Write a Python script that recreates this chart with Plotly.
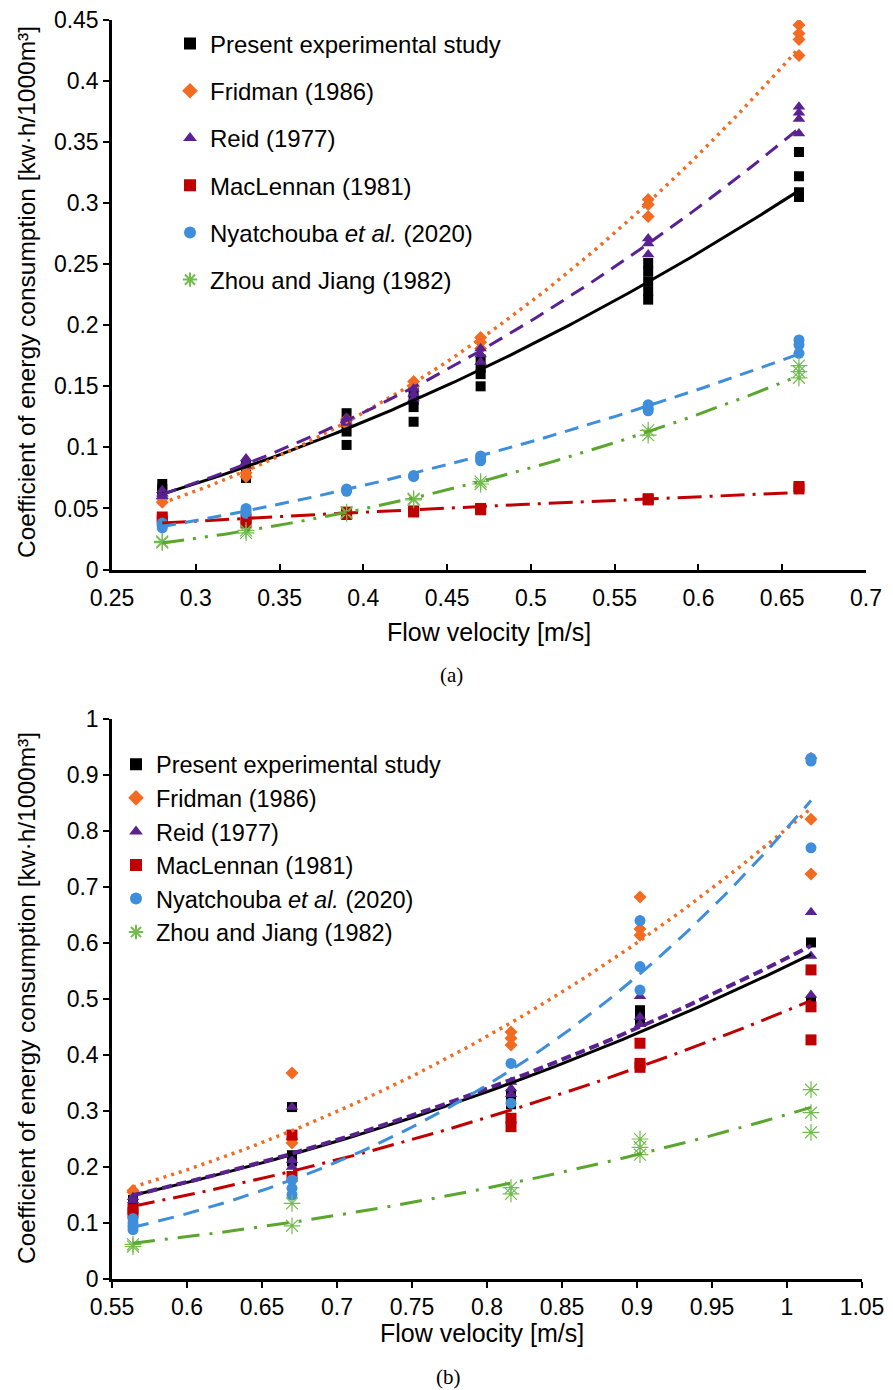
import numpy as np
import plotly.graph_objects as go

W, H = 893, 1390

# ---------------- Panel (a) data ----------------
A_X = [0.28, 0.33, 0.39, 0.43, 0.47, 0.57, 0.66]
A_PRESENT = [[0.070, 0.066, 0.062], [0.085, 0.080, 0.075], [0.128, 0.120, 0.113, 0.102],
             [0.145, 0.139, 0.133, 0.121], [0.172, 0.165, 0.160, 0.150],
             [0.251, 0.244, 0.236, 0.228, 0.221], [0.342, 0.322, 0.309, 0.305]]
A_FRIDMAN = [[0.058, 0.055], [0.083, 0.079, 0.076], [0.123, 0.119], [0.154, 0.150],
             [0.190, 0.186, 0.181], [0.303, 0.299, 0.289], [0.446, 0.439, 0.434, 0.421]]
A_REID = [[0.065, 0.062, 0.060], [0.091, 0.088, 0.085], [0.124, 0.120], [0.148, 0.144, 0.140],
          [0.181, 0.176, 0.170], [0.271, 0.267, 0.258], [0.379, 0.374, 0.369, 0.357]]
A_MACLENNAN = [[0.043, 0.040], [0.041, 0.038], [0.047, 0.045], [0.048, 0.047],
               [0.050, 0.049], [0.058, 0.057], [0.068, 0.066]]
A_NYATCHOUBA = [[0.038, 0.036, 0.034], [0.050, 0.048, 0.046], [0.066, 0.064], [0.077, 0.076],
                [0.093, 0.091, 0.089], [0.135, 0.132, 0.130], [0.188, 0.184, 0.177]]
A_ZHOU = [[0.023, 0.022], [0.032, 0.030], [0.047, 0.046], [0.058, 0.057],
          [0.072, 0.070], [0.114, 0.110], [0.167, 0.162, 0.157]]

# ---------------- Panel (b) data ----------------
B_X = [0.564, 0.670, 0.816, 0.902, 1.016]
B_PRESENT = [[0.141, 0.135], [0.307, 0.221, 0.210], [0.330, 0.312],
             [0.480, 0.470, 0.460], [0.601, 0.495]]
B_FRIDMAN = [[0.158, 0.155], [0.368, 0.250, 0.243], [0.441, 0.430, 0.418],
             [0.682, 0.625, 0.614], [0.930, 0.821, 0.723]]
B_REID = [[0.146, 0.140], [0.307, 0.212, 0.200], [0.352, 0.340, 0.330],
          [0.505, 0.468, 0.455], [0.655, 0.577, 0.507]]
B_MACLENNAN = [[0.125, 0.118], [0.257, 0.183], [0.287, 0.272],
               [0.421, 0.385, 0.378], [0.552, 0.486, 0.427]]
B_NYATCHOUBA = [[0.108, 0.100, 0.094, 0.088], [0.177, 0.162, 0.150], [0.385, 0.314],
                [0.640, 0.558, 0.516], [0.930, 0.925, 0.770]]
B_ZHOU = [[0.062, 0.058], [0.135, 0.095], [0.163, 0.152],
          [0.250, 0.235, 0.222], [0.338, 0.297, 0.262]]

SERIES_NAMES = ["Present experimental study", "Fridman (1986)", "Reid (1977)",
                "MacLennan (1981)", "Nyatchouba <i>et al.</i> (2020)", "Zhou and Jiang (1982)"]

A_TICKS_X = [0.25, 0.3, 0.35, 0.4, 0.45, 0.5, 0.55, 0.6, 0.65, 0.7]
A_TICKS_X_TEXT = ["0.25", "0.3", "0.35", "0.4", "0.45", "0.5", "0.55", "0.6", "0.65", "0.7"]
A_TICKS_Y = [0, 0.05, 0.1, 0.15, 0.2, 0.25, 0.3, 0.35, 0.4, 0.45]
A_TICKS_Y_TEXT = ["0", "0.05", "0.1", "0.15", "0.2", "0.25", "0.3", "0.35", "0.4", "0.45"]
B_TICKS_X = [0.55, 0.6, 0.65, 0.7, 0.75, 0.8, 0.85, 0.9, 0.95, 1.0, 1.05]
B_TICKS_X_TEXT = ["0.55", "0.6", "0.65", "0.7", "0.75", "0.8", "0.85", "0.9", "0.95", "1", "1.05"]
B_TICKS_Y = [0, 0.1, 0.2, 0.3, 0.4, 0.5, 0.6, 0.7, 0.8, 0.9, 1.0]
B_TICKS_Y_TEXT = ["0", "0.1", "0.2", "0.3", "0.4", "0.5", "0.6", "0.7", "0.8", "0.9", "1"]

# ---------------- styles ----------------
COLORS = ["#000000", "#F26B21", "#5A2191", "#C00000", "#3F8EDB", "#72BC4C"]
LINE_COLORS = ["#000000", "#F26B21", "#5A2191", "#C00000", "#3F8EDB", "#5AA62E"]
SYMBOLS = ["square", "diamond", "triangle-up", "square", "circle", "asterisk-open"]
SIZES = [10, 10, 11, 11, 11, 14]
A_DASH = ["solid", "3px,5px", "15px,9px", "24px,8px,3px,8px", "14px,9px",
          "22px,9px,3px,9px,3px,9px"]
B_DASH = ["solid", "3px,5px", "10px,5px", "22px,8px,3px,8px", "16px,10px",
          "22px,10px,3px,10px"]
A_WIDTH = [3, 3.5, 3, 3, 3, 3]
B_WIDTH = [3, 3.5, 4, 3, 3, 3]

FONT = "Liberation Sans, Arial, sans-serif"


def flatten(xs, groups):
    fx, fy = [], []
    for x, g in zip(xs, groups):
        for v in g:
            fx.append(x)
            fy.append(v)
    return np.array(fx), np.array(fy)


def power_fit(x, y, xs):
    b, ln_a = np.polyfit(np.log(x), np.log(y), 1)
    return np.exp(ln_a) * xs ** b


fig = go.Figure()

panels = [
    ("x", "y", "legend", A_X, [A_PRESENT, A_FRIDMAN, A_REID, A_MACLENNAN, A_NYATCHOUBA, A_ZHOU], A_DASH, A_WIDTH),
    ("x2", "y2", "legend2", B_X, [B_PRESENT, B_FRIDMAN, B_REID, B_MACLENNAN, B_NYATCHOUBA, B_ZHOU], B_DASH, B_WIDTH),
]

for xa, ya, leg, xs, series, dashes, widths in panels:
    for i, (name, groups) in enumerate(zip(SERIES_NAMES, series)):
        fx, fy = flatten(xs, groups)
        if SYMBOLS[i] == "asterisk-open":
            marker = dict(symbol=SYMBOLS[i], size=SIZES[i], color=COLORS[i],
                          line=dict(color=COLORS[i], width=1.2))
        else:
            marker = dict(symbol=SYMBOLS[i], size=SIZES[i], color=COLORS[i],
                          line=dict(width=0))
        fig.add_trace(go.Scatter(x=fx, y=fy, mode="markers", name=name, marker=marker,
                                 xaxis=xa, yaxis=ya, legend=leg, legendgroup=leg + str(i),
                                 showlegend=True))
    for i, groups in enumerate(series):
        fx, fy = flatten(xs, groups)
        grid = np.linspace(min(xs), max(xs), 120)
        fig.add_trace(go.Scatter(x=grid, y=power_fit(fx, fy, grid), mode="lines",
                                 line=dict(color=LINE_COLORS[i], width=widths[i], dash=dashes[i]),
                                 xaxis=xa, yaxis=ya, showlegend=False, hoverinfo="skip"))


def px_x(p):
    return p / W


def px_y(p):
    return 1 - p / H


axis_common = dict(showline=True, linecolor="black", linewidth=2.5, showgrid=False,
                   zeroline=False, ticks="outside", ticklen=6, tickwidth=2, tickcolor="black",
                   tickfont=dict(family=FONT, size=23, color="black"), tickmode="array",
                   automargin=False)

fig.update_layout(
    width=W, height=H,
    margin=dict(l=0, r=0, t=0, b=0, autoexpand=False),
    paper_bgcolor="white", plot_bgcolor="white",
    font=dict(family=FONT, color="black"),
    xaxis=dict(domain=[px_x(112), px_x(866)], range=[0.25, 0.7], anchor="y",
               tickvals=A_TICKS_X, ticktext=A_TICKS_X_TEXT,
               **{**axis_common, "ticks": "inside"}, ticklabelstandoff=6),
    yaxis=dict(domain=[px_y(569.5), px_y(20)], range=[0, 0.45], anchor="x",
               tickvals=A_TICKS_Y, ticktext=A_TICKS_Y_TEXT, **axis_common),
    xaxis2=dict(domain=[px_x(112), px_x(862)], range=[0.55, 1.05], anchor="y2",
                tickvals=B_TICKS_X, ticktext=B_TICKS_X_TEXT, **axis_common),
    yaxis2=dict(domain=[px_y(1279), px_y(719)], range=[0, 1.0], anchor="x2",
                tickvals=B_TICKS_Y, ticktext=B_TICKS_Y_TEXT, **axis_common),
    legend=dict(x=px_x(170), y=px_y(21.5), xanchor="left", yanchor="top",
                font=dict(family=FONT, size=24, color="black"), bgcolor="rgba(0,0,0,0)",
                traceorder="grouped", tracegroupgap=13, itemsizing="constant"),
    legend2=dict(x=px_x(116), y=px_y(742.5), xanchor="left", yanchor="top",
                 font=dict(family=FONT, size=23.5, color="black"), bgcolor="rgba(0,0,0,0)",
                 traceorder="grouped", tracegroupgap=0, itemsizing="constant"),
    showlegend=True,
)

ytitle_font = dict(family=FONT, size=24.5, color="black")
xtitle_font = dict(family=FONT, size=25, color="black")
ytitle = "Coefficient of energy consumption [kw·h/1000m³]"
annotations = [
    dict(text=ytitle, x=px_x(27), y=px_y(292), textangle=-90, font=ytitle_font),
    dict(text=ytitle, x=px_x(27), y=px_y(998), textangle=-90, font=ytitle_font),
    dict(text="Flow velocity [m/s]", x=px_x(489), y=px_y(632), font=xtitle_font),
    dict(text="Flow velocity [m/s]", x=px_x(482), y=px_y(1333), font=xtitle_font),
    dict(text="(a)", x=px_x(451), y=px_y(675), font=dict(family="Liberation Serif, serif", size=21, color="black")),
    dict(text="(b)", x=px_x(448), y=px_y(1377), font=dict(family="Liberation Serif, serif", size=21, color="black")),
]
for a in annotations:
    a.update(xref="paper", yref="paper", xanchor="center", yanchor="middle", showarrow=False)
fig.update_layout(annotations=annotations)

fig.write_html("out.html")
